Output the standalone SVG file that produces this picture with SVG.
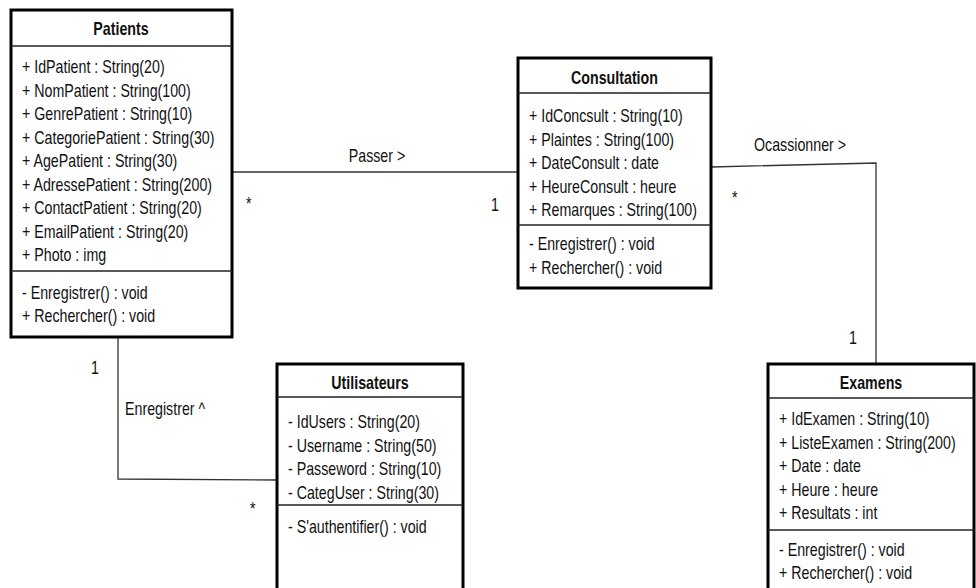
<svg xmlns="http://www.w3.org/2000/svg" width="976" height="588" viewBox="0 0 976 588">
<style>
text{font-family:"Liberation Sans",Arial,sans-serif;font-size:18px;fill:#111}
.h{font-weight:bold;text-anchor:middle}
.m{text-anchor:middle}
.box{fill:#fff;stroke:#000;stroke-width:3}
.sep{stroke:#222;stroke-width:1.5}
.con{fill:none;stroke:#333;stroke-width:1.3}
</style>
<rect width="976" height="588" fill="#fff"/>
<g id="connectors">
<path class="con" d="M232,172 L518,172"/>
<path class="con" d="M711,167 L876,163 L876,364"/>
<path class="con" d="M118,337 L118,479 L277,480"/>
<text class="m" transform="translate(377,162) scale(0.79,1)">Passer &gt;</text>
<text transform="translate(246,210) scale(0.79,1)">*</text>
<text transform="translate(491,211) scale(0.79,1)">1</text>
<text class="m" transform="translate(800,151) scale(0.79,1)">Ocassionner &gt;</text>
<text transform="translate(732,204) scale(0.79,1)">*</text>
<text transform="translate(849,344) scale(0.79,1)">1</text>
<text transform="translate(91,374) scale(0.79,1)">1</text>
<text transform="translate(125,415) scale(0.79,1)">Enregistrer ^</text>
<text transform="translate(250,515) scale(0.79,1)">*</text>
</g>
<g id="patients">
<rect class="box" x="11" y="10" width="221" height="327"/>
<line class="sep" x1="11" y1="46" x2="232" y2="46"/>
<line class="sep" x1="11" y1="271" x2="232" y2="271"/>
<text class="h" transform="translate(121,35) scale(0.79,1)">Patients</text>
<text transform="translate(22,73) scale(0.79,1)">+ IdPatient : String(20)</text>
<text transform="translate(22,96.5) scale(0.79,1)">+ NomPatient : String(100)</text>
<text transform="translate(22,120) scale(0.79,1)">+ GenrePatient : String(10)</text>
<text transform="translate(22,143.5) scale(0.79,1)">+ CategoriePatient : String(30)</text>
<text transform="translate(22,167) scale(0.79,1)">+ AgePatient : String(30)</text>
<text transform="translate(22,190.5) scale(0.79,1)">+ AdressePatient : String(200)</text>
<text transform="translate(22,214) scale(0.79,1)">+ ContactPatient : String(20)</text>
<text transform="translate(22,237.5) scale(0.79,1)">+ EmailPatient : String(20)</text>
<text transform="translate(22,261) scale(0.79,1)">+ Photo : img</text>
<text transform="translate(22,299) scale(0.79,1)">- Enregistrer() : void</text>
<text transform="translate(22,322) scale(0.79,1)">+ Rechercher() : void</text>
</g>
<g id="consultation">
<rect class="box" x="518" y="58" width="193" height="230"/>
<line class="sep" x1="518" y1="93" x2="711" y2="93"/>
<line class="sep" x1="518" y1="225" x2="711" y2="225"/>
<text class="h" transform="translate(614.5,84) scale(0.79,1)">Consultation</text>
<text transform="translate(529,122) scale(0.79,1)">+ IdConcsult : String(10)</text>
<text transform="translate(529,145.5) scale(0.79,1)">+ Plaintes : String(100)</text>
<text transform="translate(529,169) scale(0.79,1)">+ DateConsult : date</text>
<text transform="translate(529,192.5) scale(0.79,1)">+ HeureConsult : heure</text>
<text transform="translate(529,216) scale(0.79,1)">+ Remarques : String(100)</text>
<text transform="translate(529,250) scale(0.79,1)">- Enregistrer() : void</text>
<text transform="translate(529,274) scale(0.79,1)">+ Rechercher() : void</text>
</g>
<g id="utilisateurs">
<rect class="box" x="277" y="364" width="186" height="240"/>
<line class="sep" x1="277" y1="397" x2="463" y2="397"/>
<line class="sep" x1="277" y1="505" x2="463" y2="505"/>
<text class="h" transform="translate(370,389) scale(0.79,1)">Utilisateurs</text>
<text transform="translate(288,428) scale(0.79,1)">- IdUsers : String(20)</text>
<text transform="translate(288,451.5) scale(0.79,1)">- Username : String(50)</text>
<text transform="translate(288,475) scale(0.79,1)">- Passeword : String(10)</text>
<text transform="translate(288,498.5) scale(0.79,1)">- CategUser : String(30)</text>
<text transform="translate(288,533) scale(0.79,1)">- S'authentifier() : void</text>
</g>
<g id="examens">
<rect class="box" x="768" y="364" width="206" height="240"/>
<line class="sep" x1="768" y1="398" x2="974" y2="398"/>
<line class="sep" x1="768" y1="530" x2="974" y2="530"/>
<text class="h" transform="translate(871,389) scale(0.79,1)">Examens</text>
<text transform="translate(779,425) scale(0.79,1)">+ IdExamen : String(10)</text>
<text transform="translate(779,448.5) scale(0.79,1)">+ ListeExamen : String(200)</text>
<text transform="translate(779,472) scale(0.79,1)">+ Date : date</text>
<text transform="translate(779,495.5) scale(0.79,1)">+ Heure : heure</text>
<text transform="translate(779,519) scale(0.79,1)">+ Resultats : int</text>
<text transform="translate(779,556) scale(0.79,1)">- Enregistrer() : void</text>
<text transform="translate(779,579) scale(0.79,1)">+ Rechercher() : void</text>
</g>
</svg>
